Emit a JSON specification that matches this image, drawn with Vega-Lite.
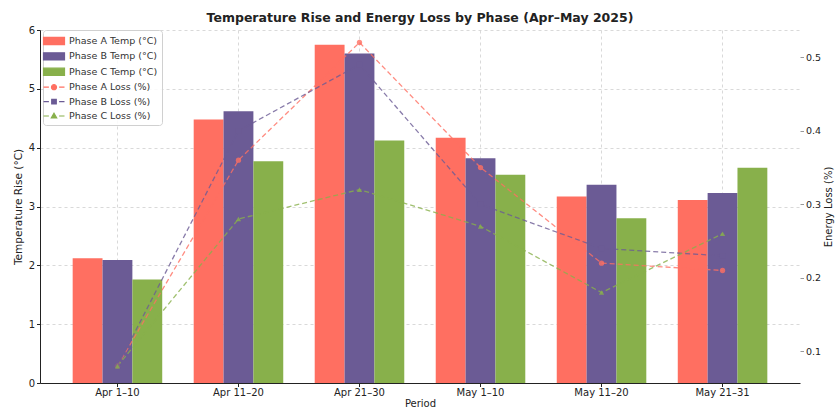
{
  "$schema": "https://vega.github.io/schema/vega-lite/v6.json",
  "width": 760,
  "height": 353,
  "autosize": {"type": "none"},
  "padding": {"left": 40, "top": 30, "right": 35, "bottom": 27},
  "background": "white",
  "title": {"text": "Temperature Rise and Energy Loss by Phase (Apr–May 2025)", "fontSize": 12.5, "fontWeight": "bold", "color": "#222", "anchor": "middle", "offset": 1},
  "config": {
    "font": "DejaVu Sans",
    "view": {"stroke": null},
    "axis": {"labelFontSize": 10, "titleFontSize": 10.5, "titleFontWeight": "normal", "labelColor": "#222", "titleColor": "#222", "gridColor": "#cfcfcf", "gridDash": [3, 3], "gridOpacity": 0.8, "zindex": 1}
  },
  "datasets": {
    "temps": [
      {"period": "Apr 1–10", "series": "Phase A Temp (°C)", "temp": 2.12},
      {"period": "Apr 1–10", "series": "Phase B Temp (°C)", "temp": 2.09},
      {"period": "Apr 1–10", "series": "Phase C Temp (°C)", "temp": 1.76},
      {"period": "Apr 11–20", "series": "Phase A Temp (°C)", "temp": 4.48},
      {"period": "Apr 11–20", "series": "Phase B Temp (°C)", "temp": 4.62},
      {"period": "Apr 11–20", "series": "Phase C Temp (°C)", "temp": 3.77},
      {"period": "Apr 21–30", "series": "Phase A Temp (°C)", "temp": 5.75},
      {"period": "Apr 21–30", "series": "Phase B Temp (°C)", "temp": 5.6},
      {"period": "Apr 21–30", "series": "Phase C Temp (°C)", "temp": 4.12},
      {"period": "May 1–10", "series": "Phase A Temp (°C)", "temp": 4.17},
      {"period": "May 1–10", "series": "Phase B Temp (°C)", "temp": 3.82},
      {"period": "May 1–10", "series": "Phase C Temp (°C)", "temp": 3.54},
      {"period": "May 11–20", "series": "Phase A Temp (°C)", "temp": 3.17},
      {"period": "May 11–20", "series": "Phase B Temp (°C)", "temp": 3.37},
      {"period": "May 11–20", "series": "Phase C Temp (°C)", "temp": 2.8},
      {"period": "May 21–31", "series": "Phase A Temp (°C)", "temp": 3.11},
      {"period": "May 21–31", "series": "Phase B Temp (°C)", "temp": 3.23},
      {"period": "May 21–31", "series": "Phase C Temp (°C)", "temp": 3.66}
    ],
    "losses": [
      {"period": "Apr 1–10", "series": "Phase A Loss (%)", "loss": 0.08},
      {"period": "Apr 11–20", "series": "Phase A Loss (%)", "loss": 0.36},
      {"period": "Apr 21–30", "series": "Phase A Loss (%)", "loss": 0.52},
      {"period": "May 1–10", "series": "Phase A Loss (%)", "loss": 0.35},
      {"period": "May 11–20", "series": "Phase A Loss (%)", "loss": 0.22},
      {"period": "May 21–31", "series": "Phase A Loss (%)", "loss": 0.21},
      {"period": "Apr 1–10", "series": "Phase B Loss (%)", "loss": 0.08},
      {"period": "Apr 11–20", "series": "Phase B Loss (%)", "loss": 0.4},
      {"period": "Apr 21–30", "series": "Phase B Loss (%)", "loss": 0.49},
      {"period": "May 1–10", "series": "Phase B Loss (%)", "loss": 0.3},
      {"period": "May 11–20", "series": "Phase B Loss (%)", "loss": 0.24},
      {"period": "May 21–31", "series": "Phase B Loss (%)", "loss": 0.23},
      {"period": "Apr 1–10", "series": "Phase C Loss (%)", "loss": 0.08},
      {"period": "Apr 11–20", "series": "Phase C Loss (%)", "loss": 0.28},
      {"period": "Apr 21–30", "series": "Phase C Loss (%)", "loss": 0.32},
      {"period": "May 1–10", "series": "Phase C Loss (%)", "loss": 0.27},
      {"period": "May 11–20", "series": "Phase C Loss (%)", "loss": 0.18},
      {"period": "May 21–31", "series": "Phase C Loss (%)", "loss": 0.26}
    ]
  },
  "encoding": {
    "x": {
      "field": "period", "type": "nominal", "sort": null,
      "scale": {"paddingInner": 0.26, "paddingOuter": 0.27},
      "axis": {"title": "Period", "titleFontSize": 10, "labelAngle": 0, "domainColor": "#222", "tickColor": "#222", "tickSize": 3.5, "labelPadding": 1, "titlePadding": 1, "grid": true}
    }
  },
  "layer": [
    {
      "data": {"name": "temps"},
      "mark": {"type": "bar"},
      "encoding": {
        "xOffset": {"field": "series", "type": "nominal", "scale": {"paddingInner": 0, "paddingOuter": 0}},
        "y": {
          "field": "temp", "type": "quantitative",
          "scale": {"domain": [0, 6], "nice": false},
          "axis": {"title": "Temperature Rise (°C)", "orient": "left", "values": [0, 1, 2, 3, 4, 5, 6], "domainColor": "#222", "tickColor": "#222", "tickSize": 3.5, "labelPadding": 2, "titlePadding": 5}
        },
        "color": {
          "field": "series", "type": "nominal",
          "scale": {
            "domain": ["Phase A Temp (°C)", "Phase B Temp (°C)", "Phase C Temp (°C)", "Phase A Loss (%)", "Phase B Loss (%)", "Phase C Loss (%)"],
            "range": ["#FF6F61", "#6B5B95", "#88B04B", "#FF6F61", "#6B5B95", "#88B04B"]
          },
          "legend": {
            "title": null, "orient": "none", "legendX": 3, "legendY": 0,
            "padding": 4, "strokeColor": "#d0d0d0", "fillColor": "rgba(255,255,255,0.85)", "cornerRadius": 3,
            "labelFontSize": 9.5, "labelColor": "#333", "symbolSize": 144, "rowPadding": 2.4, "labelOffset": 8,
            "encode": {
              "symbols": {
                "update": {
                  "shape": {"signal": "datum.index < 3 ? 'M-1.75,-0.6H1.75V0.6H-1.75Z' : datum.index == 3 ? 'M-1.75,0H-0.85M0.85,0H1.75M-0.42,0A0.42,0.42 0 1,0 0.42,0A0.42,0.42 0 1,0 -0.42,0Z' : datum.index == 4 ? 'M-1.75,0H-0.85M0.85,0H1.75M-0.38,-0.38H0.38V0.38H-0.38Z' : 'M-1.75,0H-0.85M0.85,0H1.75M0,-0.45L0.45,0.33H-0.45Z'"},
                  "fill": {"scale": "color", "field": "value"},
                  "stroke": {"scale": "color", "field": "value"},
                  "strokeWidth": {"value": 1.2},
                  "opacity": {"value": 1}
                }
              }
            }
          }
        }
      }
    },
    {
      "data": {"name": "losses"},
      "encoding": {
        "y": {
          "field": "loss", "type": "quantitative",
          "scale": {"domain": [0.057, 0.537], "nice": false, "zero": false},
          "axis": {"title": "Energy Loss (%)", "titleFontSize": 10, "labelFontSize": 9.5, "orient": "right", "values": [0.1, 0.2, 0.3, 0.4, 0.5], "format": ".1f", "domain": false, "tickColor": "#999", "tickSize": 3.5, "labelPadding": 2, "titleAngle": 270, "titleBaseline": "top", "titlePadding": 3}
        },
        "color": {"field": "series", "type": "nominal"}
      },
      "layer": [
        {"mark": {"type": "line", "strokeDash": [5, 3], "strokeWidth": 1.3, "opacity": 0.8}},
        {
          "mark": {"type": "point", "filled": true, "size": 28, "opacity": 0.8},
          "encoding": {
            "shape": {"field": "series", "type": "nominal", "scale": {"domain": ["Phase A Loss (%)", "Phase B Loss (%)", "Phase C Loss (%)"], "range": ["circle", "square", "triangle-up"]}, "legend": null}
          }
        }
      ]
    }
  ],
  "resolve": {"scale": {"y": "independent"}}
}
